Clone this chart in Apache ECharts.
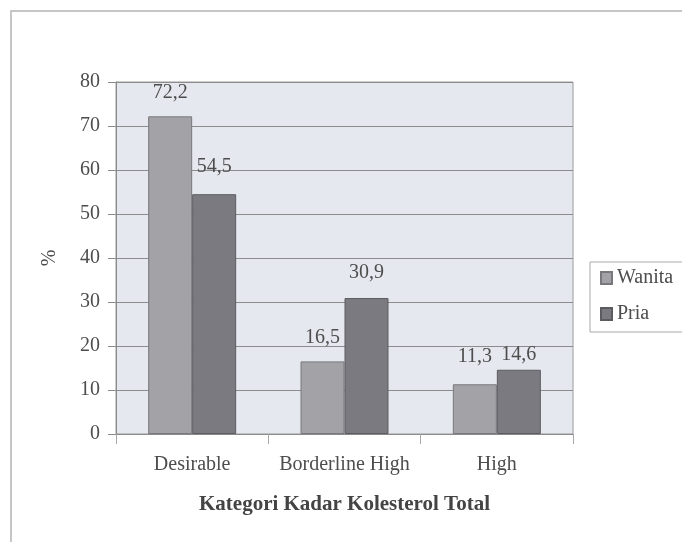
<!DOCTYPE html>
<html>
<head>
<meta charset="utf-8">
<script src="https://cdn.jsdelivr.net/npm/echarts@6/dist/echarts.min.js"></script>
<style>
  html, body { margin: 0; padding: 0; background: #ffffff; }
  #chart { width: 682px; height: 542px; }
</style>
</head>
<body>
<div id="chart"></div>
<script>
// Cholesterol categories and shares (%) by sex
const categories = ['Desirable', 'Borderline High', 'High'];
const wanita = [72.2, 16.5, 11.3];
const pria = [54.5, 30.9, 14.6];
const yTicks = [0, 10, 20, 30, 40, 50, 60, 70, 80];

// label gap above each bar (px)
const wanitaGap = [14, 14, 18];
const priaGap = [17, 15, 5];

const serif = '"Liberation Serif", "DejaVu Serif", serif';
const textColor = '#4d4d4d';
const fs = 20;

function fmt(v) { return v.toFixed(1).replace('.', ','); }

function buildData(values, gaps) {
  return values.map((v, i) => ({
    value: v,
    label: { distance: gaps[i] }
  }));
}

const chart = echarts.init(document.getElementById('chart'));
chart.setOption({
  backgroundColor: '#ffffff',
  animation: false,
  graphic: [
    {
      type: 'rect',
      shape: { x: 11, y: 11, width: 700, height: 560 },
      style: { fill: 'none', stroke: '#b4b4b4', lineWidth: 1.5 },
      z: -10
    }
  ],
  grid: {
    left: 116, top: 82, width: 457, height: 352,
    show: true,
    backgroundColor: '#e6e8ef',
    borderColor: '#9a9a9a',
    borderWidth: 1
  },
  legend: {
    data: ['Wanita', 'Pria'],
    orient: 'vertical',
    left: 590, top: 262,
    itemWidth: 11, itemHeight: 12, itemGap: 16,
    padding: [6, 40, 8, 10],
    borderColor: '#a8a8a8', borderWidth: 1,
    backgroundColor: '#ffffff',
    textStyle: { fontFamily: serif, fontSize: fs, color: textColor },
    icon: 'rect'
  },
  xAxis: {
    type: 'category',
    data: categories,
    name: 'Kategori Kadar Kolesterol Total',
    nameLocation: 'middle',
    nameGap: 60,
    nameTextStyle: { fontFamily: serif, fontSize: fs + 1, fontWeight: 'bold', color: '#444444' },
    axisLine: { show: true, lineStyle: { color: '#8a8a8a', width: 1 } },
    axisTick: { show: true, length: 10, lineStyle: { color: '#a8a8a8' } },
    axisLabel: {
      fontFamily: serif, fontSize: fs, color: textColor, margin: 21,
      interval: 0, hideOverlap: false
    }
  },
  yAxis: {
    type: 'value',
    min: 0, max: 80, interval: 10,
    name: '%',
    nameLocation: 'middle',
    nameGap: 56,
    nameRotate: 90,
    nameTextStyle: { fontFamily: serif, fontSize: fs, color: textColor },
    axisLine: { show: true, lineStyle: { color: '#8a8a8a', width: 1 } },
    axisTick: { show: true, length: 8, lineStyle: { color: '#8a8a8a' } },
    axisLabel: {
      fontFamily: serif, fontSize: fs, color: textColor, margin: 16,
      formatter: v => (yTicks.includes(v) ? String(v) : '')
    },
    splitLine: { show: true, lineStyle: { color: '#8c8c8c', width: 1 } }
  },
  series: [
    {
      name: 'Wanita',
      type: 'bar',
      data: buildData(wanita, wanitaGap),
      barWidth: 44,
      barGap: '0%',
      itemStyle: { color: '#a2a2a7', borderColor: '#78787d', borderWidth: 1 },
      label: {
        show: true, position: 'top',
        fontFamily: serif, fontSize: fs, color: textColor,
        formatter: p => fmt(p.value)
      }
    },
    {
      name: 'Pria',
      type: 'bar',
      data: buildData(pria, priaGap),
      barWidth: 44,
      barGap: '0%',
      itemStyle: { color: '#7a7a80', borderColor: '#5c5c60', borderWidth: 1 },
      label: {
        show: true, position: 'top',
        fontFamily: serif, fontSize: fs, color: textColor,
        formatter: p => fmt(p.value)
      }
    }
  ]
});
</script>
</body>
</html>
